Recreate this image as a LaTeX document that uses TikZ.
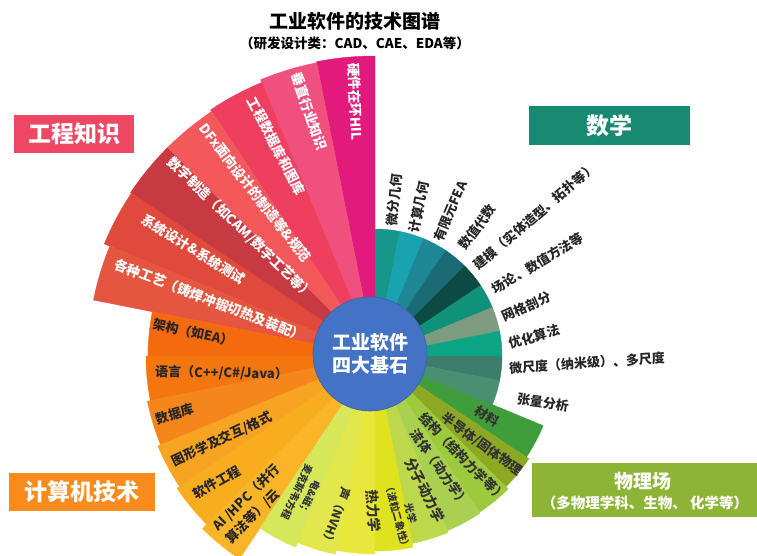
\documentclass[tikz,border=0pt]{standalone}
\usepackage{fontspec}
\setmainfont{Noto Sans CJK SC}
\usetikzlibrary{calc}
\definecolor{e1}{HTML}{E21A7C}\definecolor{e2}{HTML}{EF507E}\definecolor{e3}{HTML}{EE3F5E}
\definecolor{e4}{HTML}{F3585A}\definecolor{e5}{HTML}{C73A41}\definecolor{e6}{HTML}{DF4A3D}
\definecolor{e7}{HTML}{E4563F}
\definecolor{c1}{HTML}{F46A0C}\definecolor{c2}{HTML}{F4760F}\definecolor{c3}{HTML}{F5861C}
\definecolor{c4}{HTML}{F7A422}\definecolor{c5}{HTML}{F8AD1F}\definecolor{c6}{HTML}{F9B527}
\definecolor{p1}{HTML}{3F9E3B}\definecolor{p2}{HTML}{8DA924}\definecolor{p3}{HTML}{9DC93C}
\definecolor{p4}{HTML}{AAD052}\definecolor{p5}{HTML}{BDD84A}\definecolor{p6}{HTML}{DFE21E}
\definecolor{p7}{HTML}{E9E63C}\definecolor{p8}{HTML}{E2E84C}\definecolor{p9}{HTML}{D6E75A}
\definecolor{m1}{HTML}{17978B}\definecolor{m2}{HTML}{19A2B0}\definecolor{m3}{HTML}{1E8795}
\definecolor{m4}{HTML}{1A6B75}\definecolor{m5}{HTML}{0C4A43}\definecolor{m6}{HTML}{10927A}
\definecolor{m7}{HTML}{7D9B7E}\definecolor{m8}{HTML}{0BA585}\definecolor{m9}{HTML}{3D7D6C}
\definecolor{m10}{HTML}{4A8F72}
\definecolor{hubblue}{HTML}{4472C4}
\definecolor{engbox}{HTML}{EE4763}\definecolor{mathbox}{HTML}{198A72}
\definecolor{compbox}{HTML}{F98B1C}\definecolor{phybox}{HTML}{8DB437}
\newcommand\fanseg[4]{\filldraw[fill=#4,draw=#4,line width=0.4pt,line join=round] (O) -- ++(#1:#3) arc[start angle=#1,end angle=#2,radius=#3] -- cycle;}
\begin{document}
\begin{tikzpicture}[x=1pt,y=1pt,
  englab/.style={text=white,font=\fontsize{13.5}{15}\selectfont\bfseries,inner sep=0pt,anchor=west},
  mathlab/.style={text=black!85,font=\fontsize{13}{15}\selectfont\bfseries,inner sep=0pt,anchor=west},
  phylab/.style={text=black!80,font=\fontsize{13}{15}\selectfont\bfseries,inner sep=0pt},
  complab/.style={text=black!85,font=\fontsize{13}{15}\selectfont\bfseries,inner sep=0pt,anchor=west},
  catbox/.style={text=white,font=\fontsize{23}{26}\selectfont\bfseries,inner sep=0pt}]
\useasboundingbox (0,0) rectangle (757,555);
\fill[white] (0,0) rectangle (757,555);
\coordinate (O) at (375,199);
% engineering
\fanseg{90}{101.25}{300}{e1}
\fanseg{101.25}{112.5}{299}{e2}
\fanseg{112.5}{123.75}{296}{e3}
\fanseg{123.75}{135}{294}{e4}
\fanseg{135}{146.25}{294}{e5}
\fanseg{146.25}{157.5}{293}{e6}
\fanseg{157.5}{168.75}{287}{e7}
% computer
\fanseg{168.75}{180}{227}{c1}
\fanseg{180}{191.25}{229}{c2}
\fanseg{191.25}{202.5}{232}{c3}
\fanseg{202.5}{213.75}{235}{c4}
\fanseg{213.75}{225}{238}{c5}
\fanseg{225}{236.25}{244}{c6}
% physics
\fanseg{-22.5}{-33.75}{182}{p1}
\fanseg{-33.75}{-45}{185}{p2}
\fanseg{-45}{-56.25}{188}{p3}
\fanseg{-56.25}{-67.5}{189}{p4}
\fanseg{-67.5}{-78.75}{191}{p5}
\fanseg{-78.75}{-90}{195}{p6}
\fanseg{-90}{-101.25}{198}{p7}
\fanseg{-101.25}{-112.5}{202}{p8}
\fanseg{-112.5}{-123.75}{207}{p9}
% math
\fanseg{90}{78.75}{127}{m1}
\fanseg{78.75}{67.5}{127}{m2}
\fanseg{67.5}{56.25}{127}{m3}
\fanseg{56.25}{45}{127}{m4}
\fanseg{45}{33.75}{127}{m5}
\fanseg{33.75}{22.5}{127}{m6}
\fanseg{22.5}{11.25}{127}{m7}
\fanseg{11.25}{0}{127}{m8}
\fanseg{0}{-11.25}{127}{m9}
\fanseg{-11.25}{-22.5}{127}{m10}
% hub
\filldraw[fill=hubblue,draw=hubblue!85!black,line width=0.6pt] (370,201) circle (57);
\node[text=white,font=\fontsize{19}{23}\selectfont\bfseries,align=center] (hub) at (370,201) {工业软件\\四大基石};
% engineering labels
\node[englab,rotate=-88] (e1t) at ($(O)+(94.1:294)$) {硬件在环HIL};
\node[englab,rotate=-71] (e2t) at ($(O)+(105.6:294)$) {垂直行业知识};
\node[englab,rotate=-62.5] (e3t) at ($(O)+(115.6:286)$) {工程数据库和图库};
\node[englab,rotate=-52] (e4t) at ($(O)+(126.8:288)$) {DFx面向设计的制造等\&规范};
\node[englab,rotate=-44] (e5t) at ($(O)+(136.3:284)$) {数字制造（如CAM/数字工艺等）};
\node[englab,rotate=-32] (e6t) at ($(O)+(149.2:270)$) {系统设计\&系统测试};
\node[englab,rotate=-21] (e7t) at ($(O)+(160.4:276)$) {各种工艺（铸焊冲锻切热及装配）};
% math labels
\node[mathlab,rotate=84] (m1t) at (391.4,329) {微分几何};
\node[mathlab,rotate=79] (m2t) at (414,322) {计算几何};
\node[mathlab,rotate=67] (m3t) at (438,314.5) {有限元FEA};
\node[mathlab,rotate=53] (m4t) at (461.4,307) {数值代数};
\node[mathlab,rotate=40.5] (m5t) at (475.4,288) {建模（实体造型、拓扑等）};
\node[mathlab,rotate=31] (m6t) at (493,265) {场论、数值方法等};
\node[mathlab,rotate=24] (m7t) at (502.5,237.6) {网格剖分};
\node[mathlab,rotate=16] (m8t) at (509,211) {优化算法};
\node[mathlab,rotate=4] (m9t) at (509,186.6) {微尺度（纳米级）、多尺度};
\node[mathlab,rotate=-8] (m10t) at (517,156) {张量分析};
% physics labels
\node[phylab,rotate=-32] (p1t) at (487,139) {材料};
\node[phylab,rotate=-36] (p2t) at (482,110.5) {半导体/固体物理};
\node[phylab,rotate=-46] (p3t) at (463,98) {结构（结构力学等）};
\node[phylab,rotate=-55] (p4t) at (440,87) {流体（动力学）};
\node[phylab,rotate=-62.5,font=\fontsize{14}{16}\selectfont\bfseries] (p5t) at (425,65) {分子动力学};
\node[phylab,rotate=-75,align=center,font=\fontsize{10}{13.5}\selectfont\bfseries] (p6t) at (404,40) {光学\\（波粒二象性）};
\node[phylab,rotate=-85,font=\fontsize{14}{16}\selectfont\bfseries] (p7t) at (373.5,44) {热力学};
\node[phylab,rotate=-110,font=\fontsize{12}{14}\selectfont\bfseries] (p8t) at (336,38) {声（NVH）};
\node[phylab,rotate=-115,align=center,font=\fontsize{10}{13.5}\selectfont\bfseries] (p9t) at (303,60) {电\&磁；\\麦克斯韦方程};
% computer labels
\node[complab,rotate=-12] (c1t) at (153,231) {架构（如EA）};
\node[complab,rotate=-1] (c2t) at (155,183) {语言（C++/C\#/Java）};
\node[complab,rotate=17] (c3t) at (156,135.5) {数据库};
\node[complab,rotate=25] (c4t) at (172.6,92.5) {图形学及交互/格式};
\node[complab,rotate=29] (c5t) at (193.8,60) {软件工程};
\node[complab,rotate=45,anchor=center,align=left,font=\fontsize{13}{17.5}\selectfont\bfseries] (c6t) at (253,51) {AI /HPC（并行\\算法等）/云};
% category boxes
\node[catbox,fill=engbox,minimum width=120pt,minimum height=38pt] (engk) at (74,421) {工程知识};
\node[catbox,fill=mathbox,minimum width=161pt,minimum height=39pt] (mathk) at (609.5,429.5) {数学};
\node[catbox,fill=compbox,minimum width=146pt,minimum height=38pt] (compk) at (82,63) {计算机技术};
\node[fill=phybox,minimum width=225pt,minimum height=54pt,inner sep=0pt] (phyk) at (644.5,65) {};
\node[text=white,font=\fontsize{19}{21}\selectfont\bfseries] (phyk1) at (643,74) {物理场};
\node[text=white,font=\fontsize{14.5}{16}\selectfont\bfseries] (phyk2) at (645,52) {（多物理学科、生物、 化学等）};
% title
\node[font=\fontsize{19}{22}\selectfont\bfseries] (title) at (355,534) {工业软件的技术图谱};
\node[font=\fontsize{13.5}{16}\selectfont\bfseries] (subtitle) at (355,512) {（研发设计类：CAD、CAE、EDA等）};
\end{tikzpicture}
\end{document}
